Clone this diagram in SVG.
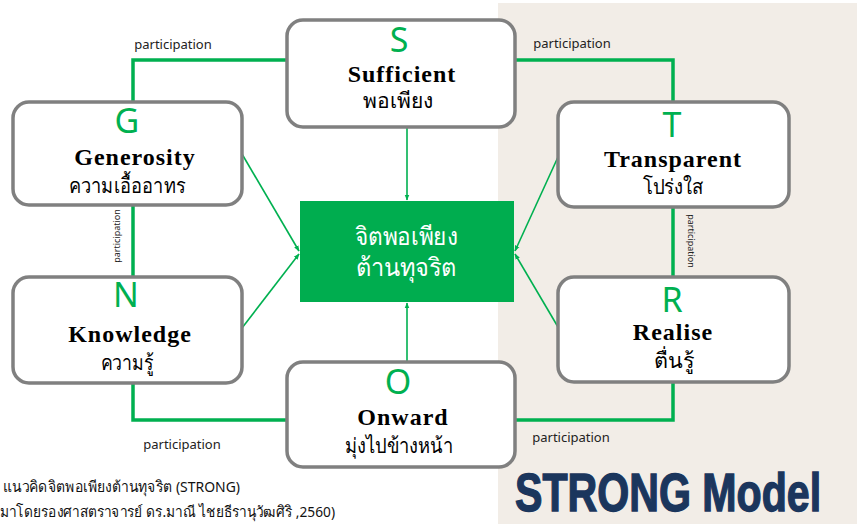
<svg xmlns="http://www.w3.org/2000/svg" width="857" height="525" viewBox="0 0 857 525">
<defs>
<marker id="ah" viewBox="0 0 10 10" refX="9" refY="5" markerWidth="6" markerHeight="6" orient="auto" markerUnits="userSpaceOnUse">
<path d="M0,1 L10,5 L0,9 z" fill="#00b050"/>
</marker>
<style>
.box{fill:#fff;stroke:#808080;stroke-width:3.5}
.let{font-family:"Noto Sans","DejaVu Sans",sans-serif;font-size:34px;fill:#00b050;text-anchor:middle}
.en{font-family:"Liberation Serif",serif;font-weight:bold;font-size:24px;fill:#000;text-anchor:middle;letter-spacing:1px}
.th{font-family:"Noto Sans","DejaVu Sans",sans-serif;font-size:21px;fill:#000;text-anchor:middle}
.thick{fill:none;stroke:#00b050;stroke-width:3.5}
.thin{fill:none;stroke:#00b050;stroke-width:1.6;marker-end:url(#ah)}
.lbl{font-family:"Noto Sans","DejaVu Sans",sans-serif;font-size:13px;fill:#222;text-anchor:middle}
.vlbl{font-family:"Noto Sans","DejaVu Sans",sans-serif;font-size:9px;fill:#222;text-anchor:middle}
.cap{font-family:"Noto Sans","DejaVu Sans",sans-serif;font-size:15px;fill:#111}
</style>
</defs>
<rect x="0" y="0" width="857" height="525" fill="#fff"/>
<rect x="498" y="3" width="359" height="521" fill="#f2ede7"/>

<g id="connectors">
<polyline class="thick" points="133,102 133,60 287,60"/>
<polyline class="thick" points="515,60 673,60 673,102"/>
<line class="thick" x1="133" y1="205" x2="133" y2="277"/>
<line class="thick" x1="673" y1="207" x2="673" y2="277"/>
<polyline class="thick" points="133,383 133,420 287,420"/>
<polyline class="thick" points="515,420 673,420 673,382"/>
<line class="thin" x1="242" y1="154" x2="299" y2="251"/>
<line class="thin" x1="242" y1="328" x2="299" y2="254"/>
<line class="thin" x1="558" y1="157" x2="515" y2="251"/>
<line class="thin" x1="558" y1="327" x2="515" y2="254"/>
<line class="thin" x1="407" y1="127" x2="407" y2="200"/>
<line class="thin" x1="407" y1="362" x2="407" y2="303"/>
<text class="lbl" x="173" y="49">participation</text>
<text class="lbl" x="572" y="48">participation</text>
<text class="lbl" x="182" y="449">participation</text>
<text class="lbl" x="571" y="442">participation</text>
<text class="vlbl" transform="translate(120,236) rotate(-90)">participation</text>
<text class="vlbl" transform="translate(688,241) rotate(90)">participation</text>
</g>

<g id="center">
<rect x="300" y="201" width="214" height="101" fill="#00ad4f"/>
<text x="406" y="245" font-family="'Noto Sans','DejaVu Sans',sans-serif" font-size="25" fill="#fff" text-anchor="middle" textLength="103" lengthAdjust="spacingAndGlyphs">จิตพอเพียง</text>
<text x="406" y="276" font-family="'Noto Sans','DejaVu Sans',sans-serif" font-size="25" fill="#fff" text-anchor="middle" textLength="101" lengthAdjust="spacingAndGlyphs">ต้านทุจริต</text>
</g>

<g id="S">
<rect class="box" x="287" y="20" width="228" height="107" rx="16"/>
<text class="let" x="399" y="52">S</text>
<text class="en" x="402" y="82">Sufficient</text>
<text class="th" x="398" y="108" textLength="70" lengthAdjust="spacingAndGlyphs">พอเพียง</text>
</g>

<g id="G">
<rect class="box" x="13" y="102" width="229" height="103" rx="16"/>
<text class="let" x="127" y="133">G</text>
<text class="en" x="135" y="165">Generosity</text>
<text class="th" x="127" y="193" textLength="117" lengthAdjust="spacingAndGlyphs">ความเอื้ออาทร</text>
</g>

<g id="T">
<rect class="box" x="558" y="102" width="231" height="105" rx="16"/>
<text class="let" x="672" y="137">T</text>
<text class="en" x="673" y="167">Transparent</text>
<text class="th" x="673" y="194" textLength="60" lengthAdjust="spacingAndGlyphs">โปร่งใส</text>
</g>

<g id="N">
<rect class="box" x="13" y="277" width="229" height="106" rx="16"/>
<text class="let" x="126" y="307">N</text>
<text class="en" x="130" y="342">Knowledge</text>
<text class="th" x="127" y="370" textLength="53" lengthAdjust="spacingAndGlyphs">ความรู้</text>
</g>

<g id="R">
<rect class="box" x="558" y="277" width="231" height="105" rx="16"/>
<text class="let" x="672" y="312">R</text>
<text class="en" x="673" y="340">Realise</text>
<text class="th" x="674" y="368" textLength="40" lengthAdjust="spacingAndGlyphs">ตื่นรู้</text>
</g>

<g id="O">
<rect class="box" x="287" y="362" width="228" height="105" rx="16"/>
<text class="let" x="398" y="394">O</text>
<text class="en" x="403" y="425">Onward</text>
<text class="th" x="399" y="453" textLength="108" lengthAdjust="spacingAndGlyphs">มุ่งไปข้างหน้า</text>
</g>

<text class="cap" x="3" y="492" textLength="237" lengthAdjust="spacingAndGlyphs">แนวคิดจิตพอเพียงต้านทุจริต (STRONG)</text>
<text class="cap" x="0" y="517" textLength="335" lengthAdjust="spacingAndGlyphs">มาโดยรองศาสตราจารย์ ดร.มาณี ไชยธีรานุวัฒศิริ ,2560)</text>
<text transform="translate(515,511) scale(0.776,1)" font-family="'Liberation Sans',sans-serif" font-weight="bold" font-size="53" fill="#1b365d" stroke="#1b365d" stroke-width="1.4">STRONG Model</text>
</svg>
